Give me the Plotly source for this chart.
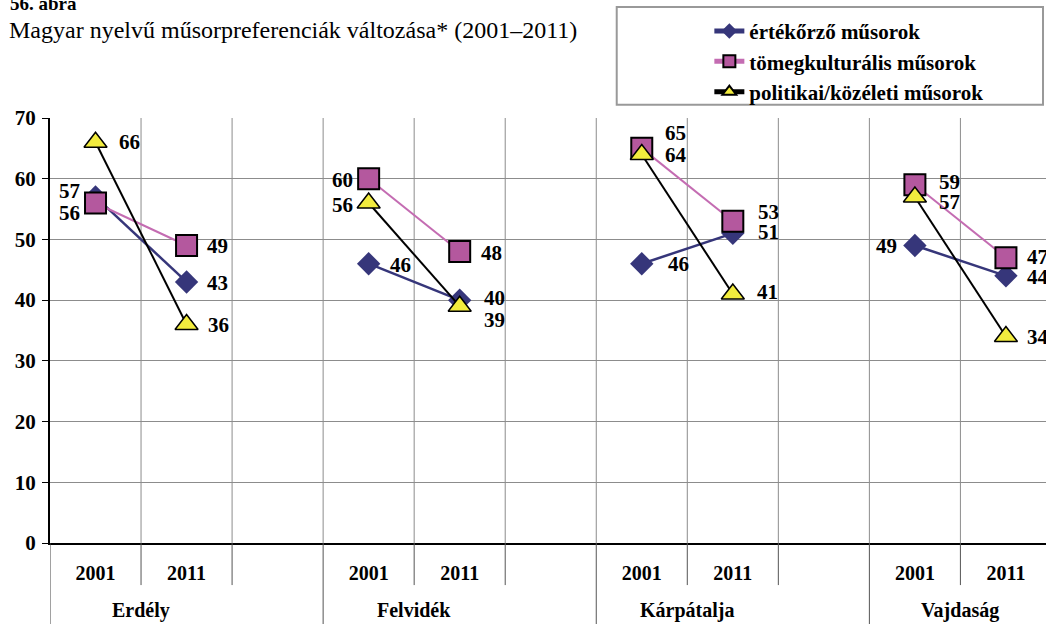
import plotly.graph_objects as go

# ---- data -------------------------------------------------------------
regions = ["Erdély", "Felvidék", "Kárpátalja", "Vajdaság"]
years = ["2001", "2011"]
ertekorzo = [57, 43, 46, 40, 46, 51, 49, 44]
tomegkulturalis = [56, 49, 60, 48, 65, 53, 59, 47]
politikai = [66, 36, 56, 39, 64, 41, 57, 34]

series_names = ["értékőrző műsorok", "tömegkulturális műsorok", "politikai/közéleti műsorok"]

# ---- layout helpers ---------------------------------------------------
FONT = "Liberation Serif"
SLOTS_PER_REGION = 3          # 2001, 2011, empty spacer column

# x slot for each (region, year) pair
slots = [r * SLOTS_PER_REGION + y for r in range(len(regions)) for y in range(len(years))]


def with_gaps(values):
    """Insert None between regions so lines only join 2001 -> 2011."""
    xs, ys = [], []
    for r in range(len(regions)):
        for y in range(len(years)):
            i = r * len(years) + y
            xs.append(slots[i])
            ys.append(values[i])
        xs.append(None)
        ys.append(None)
    return xs, ys


styles = [
    dict(line=dict(color="#36367a", width=2.5),
         marker=dict(symbol="diamond", size=18, color="#36367a",
                     line=dict(color="#36367a", width=0))),
    dict(line=dict(color="#c46cb2", width=2),
         marker=dict(symbol="square", size=21, color="#b4589e",
                     line=dict(color="black", width=2))),
    dict(line=dict(color="black", width=2),
         marker=dict(symbol="triangle-up", size=20, color="#f2ec3e",
                     line=dict(color="black", width=1.5))),
]

# label placement per point: (side, horizontal gap in px, vertical offset in px, downwards)
label_offsets = [
    [("l", -15, -6), ("r", 19, 1), ("r", 20, 1), ("r", 23, -2),
     ("r", 25, 0), ("r", 24, -1), ("l", -17, 0), ("r", 20, 1)],
    [("l", -15, 10), ("r", 19, 0), ("l", -15, 1), ("r", 20, 1),
     ("r", 22, -15), ("r", 24, -9), ("r", 23, -3), ("r", 20, -1)],
    [("r", 22, 0), ("r", 20, 1), ("l", -15, 2), ("r", 23, 14),
     ("r", 22, 1), ("r", 23, -2), ("r", 23, 5), ("r", 20, 0)],
]

fig = go.Figure()
all_values = [ertekorzo, tomegkulturalis, politikai]
for k, (name, vals, st) in enumerate(zip(series_names, all_values, styles)):
    xs, ys = with_gaps(vals)
    fig.add_trace(go.Scatter(
        x=xs, y=ys, name=name, mode="lines+markers",
        line=st["line"], marker=st["marker"],
        legendgroup=f"g{k}", connectgaps=False, cliponaxis=True,
    ))

annotations = []
for k, vals in enumerate(all_values):
    for i, v in enumerate(vals):
        side, dx, dy = label_offsets[k][i]
        annotations.append(dict(
            x=slots[i], y=v, xref="x", yref="y", text=str(v), showarrow=False,
            xanchor="left" if side == "r" else "right", yanchor="middle",
            xshift=dx, yshift=-dy, borderpad=0,
            font=dict(family=FONT, size=21, color="black", weight="bold"),
        ))

# region names under the year labels
n_slots = SLOTS_PER_REGION * len(regions) - 1
for r, name in enumerate(regions):
    last = min(r * SLOTS_PER_REGION + SLOTS_PER_REGION - 1, n_slots) - 0.5
    first = r * SLOTS_PER_REGION - 0.5
    annotations.append(dict(
        x=(first + last) / 2, y=-0.158, xref="x", yref="paper", text=name,
        showarrow=False, xanchor="center", yanchor="middle",
        font=dict(family=FONT, size=20, color="black", weight="bold"),
    ))

# titles
annotations.append(dict(
    x=-0.042, y=1.27, xref="paper", yref="paper", text="56. ábra", showarrow=False,
    xanchor="left", yanchor="middle",
    font=dict(family=FONT, size=19, color="black", weight="bold"),
))
annotations.append(dict(
    x=-0.043, y=1.207, xref="paper", yref="paper",
    text="Magyar nyelvű műsorpreferenciák változása* (2001–2011)", showarrow=False,
    xanchor="left", yanchor="middle",
    font=dict(family=FONT, size=24, color="black"),
))

# column separators: grey inside the plot, darker below the axis
shapes = []
for b in range(n_slots):
    xb = b + 0.5
    region_edge = (b + 1) % SLOTS_PER_REGION == 0
    shapes.append(dict(type="line", xref="x", yref="paper", x0=xb, x1=xb, y0=0, y1=1,
                       line=dict(color="#8c8c8c", width=1), layer="below"))
    shapes.append(dict(type="line", xref="x", yref="paper", x0=xb, x1=xb, y0=0,
                       y1=-0.2 if region_edge else -0.099,
                       line=dict(color="#555555", width=1)))
# left axis continues down through the label rows
shapes.append(dict(type="line", xref="x", yref="paper", x0=-0.5, x1=-0.5, y0=0, y1=-0.2,
                   line=dict(color="#444444", width=1)))
# legend frame
shapes.append(dict(type="rect", xref="paper", yref="paper", x0=0.569, x1=0.997,
                   y0=1.031, y1=1.261, line=dict(color="#999999", width=2),
                   fillcolor="rgba(0,0,0,0)"))

fig.update_layout(
    width=1046, height=624,
    margin=dict(l=50, r=0, t=118, b=81),
    paper_bgcolor="white", plot_bgcolor="white",
    font=dict(family=FONT, color="black"),
    showlegend=True,
    legend=dict(
        x=0.662, y=1.252, xanchor="left", yanchor="top",
        bgcolor="rgba(0,0,0,0)", borderwidth=0,
        font=dict(family=FONT, size=21, color="black", weight="bold"),
        itemsizing="constant", tracegroupgap=0,
    ),
    annotations=annotations,
    shapes=shapes,
    xaxis=dict(
        range=[-0.5, 10.44], tickmode="array", tickvals=slots,
        ticktext=[years[i % len(years)] for i in range(len(slots))],
        showgrid=False, zeroline=False, ticks="",
        showline=True, linecolor="black", linewidth=2,
        tickfont=dict(family=FONT, size=20, color="black", weight="bold"),
        ticklabelstandoff=11, fixedrange=True,
    ),
    yaxis=dict(
        range=[0, 70], dtick=10, tick0=0,
        showgrid=True, gridcolor="#8c8c8c", gridwidth=1, zeroline=False,
        showline=True, linecolor="black", linewidth=2,
        ticks="outside", ticklen=6, tickcolor="black", tickwidth=1,
        tickfont=dict(family=FONT, size=21, color="black", weight="bold"),
        ticklabelstandoff=2, fixedrange=True,
    ),
)

fig.write_html("out.html")
